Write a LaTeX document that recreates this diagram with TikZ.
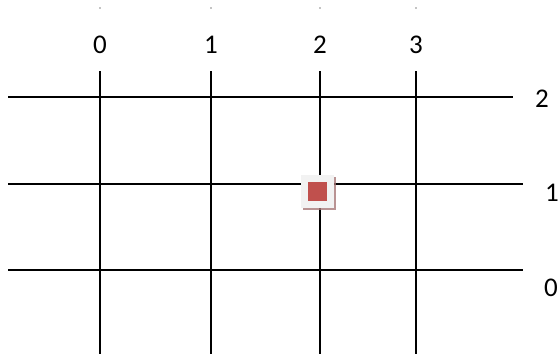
\documentclass[tikz,border=0pt]{standalone}
\usepackage{fontspec}
\setmainfont{Carlito}
\usetikzlibrary{shadows}
\definecolor{markred}{HTML}{C0504D}
\definecolor{markshadow}{HTML}{A87878}
\tikzset{
  gridline/.style={line width=2pt, black},
  axislabel/.style={font=\fontsize{27}{32}\selectfont, inner sep=0pt},
}
\begin{document}
\begin{tikzpicture}[x=1pt, y=-1pt]
        \useasboundingbox (0,0) rectangle (560,354);

        % columns
        \foreach \i/\x in {0/100,1/211,2/320,3/416} {
                \draw[gridline] (\x,71) -- (\x,354);
                \fill (\x,8) circle(0.7pt);
                \node[axislabel] (col\i) at (\x,45) {\i};
            }

        % rows
        \foreach \j/\y/\e/\lx/\ly in {2/97/513/542/99, 1/184/523/552/193, 0/270/523/551/288} {
                \draw[gridline] (8,\y) -- (\e,\y);
                \node[axislabel] (row\j) at (\lx,\ly) {\j};
            }

        % marker at (2,1)
        \node[fill=gray!10, minimum size=33pt, inner sep=0pt,
              drop shadow={shadow xshift=2pt, shadow yshift=-2pt, fill=markshadow, opacity=0.8}] (box) at (317.5,191) {};
        \node[fill=markred, minimum size=19pt, inner sep=0pt] (marker) at (box.center) {};
    \end{tikzpicture}
\end{document}
